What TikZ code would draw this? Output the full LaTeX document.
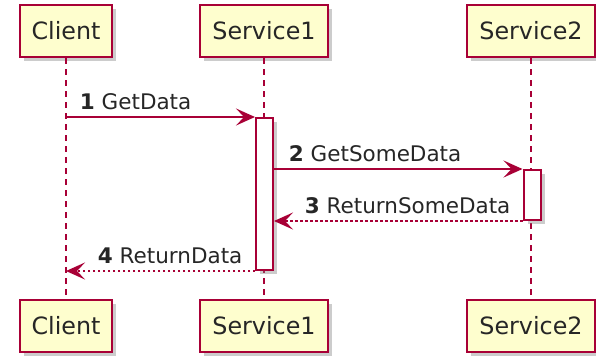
\documentclass[tikz,border=0pt]{standalone}
\usepackage{fontspec}
\setmainfont{DejaVu Sans}
\usetikzlibrary{calc}
\usetikzlibrary{arrows.meta}
\usetikzlibrary{shadows}
\definecolor{umlred}{HTML}{A80036}
\definecolor{umlfill}{HTML}{FEFECE}

\begin{document}
\begin{tikzpicture}[x=1bp,y=-1bp,
  shade box/.style={drop shadow={shadow xshift=4bp,shadow yshift=-4bp,fill=black!50,opacity=.4}},
  part/.style={draw=umlred,fill=umlfill,line width=2bp,minimum height=52bp,inner xsep=12bp,
    text=black!85,font=\fontsize{23.8bp}{28bp}\selectfont,shade box},
  act/.style={draw=umlred,fill=white,line width=2bp,minimum width=17bp,inner sep=0pt,shade box},
  life/.style={umlred,line width=1.6bp,dash pattern=on 6bp off 5bp},
  msg/.style={umlred,line width=1.8bp,-{Stealth[length=19bp,width=17bp,inset=8bp]}},
  ret/.style={msg,dash pattern=on 2.5bp off 2.5bp},
  lbl/.style={text=black!85,font=\fontsize{21.5bp}{25bp}\selectfont,inner sep=0pt,anchor=base west}]
\useasboundingbox (0,0) rectangle (596,358);

\node[part] (ct) at (66,31) {Client};
\node[part] (s1t) at (264,31) {Service1};
\node[part] (s2t) at (531,31) {Service2};
\node[part] (cb) at (66,326) {Client};
\node[part] (s1b) at (264,326) {Service1};
\node[part] (s2b) at (531,326) {Service2};

\draw[life] (ct.south) -- (cb.north);
\draw[life] (s1t.south) -- (s1b.north);
\draw[life] (s2t.south) -- (s2b.north);

\node[act,minimum height=152bp] (act1) at (264.5,194) {};
\node[act,minimum height=50bp] (act2) at (532,195) {};

\draw[msg] (ct |- act1.north) -- (act1.north west)
  node[lbl,pos=0,xshift=13bp,yshift=8bp] {\textbf{1} GetData};
\draw[msg] (act2.north -| act1.east) -- (act2.north west)
  node[lbl,pos=0,xshift=14bp,yshift=8bp] {\textbf{2} GetSomeData};
\draw[ret] (act2.south west) -- (act2.south -| act1.east)
  node[lbl,pos=1,xshift=30bp,yshift=8bp] {\textbf{3} ReturnSomeData};
\draw[ret] (act1.south west) -- (act1.south -| ct)
  node[lbl,pos=1,xshift=31bp,yshift=8bp] {\textbf{4} ReturnData};
\end{tikzpicture}
\end{document}
